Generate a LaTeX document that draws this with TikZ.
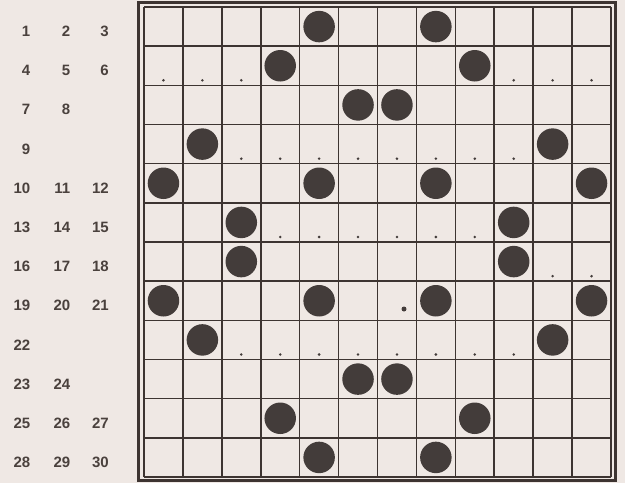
\documentclass[tikz,border=0pt]{standalone}
\usepackage{fontspec}
\setmainfont{Liberation Sans}
\begin{document}
\begin{tikzpicture}[x=1pt,y=-1pt,
  gridline/.style={draw=linec,line width=1.6pt},
  frameline/.style={draw=linec,line width=2.8pt},
  disc/.style={circle,fill=discc,draw=none,minimum size=31.5pt,inner sep=0pt},
  speck/.style={circle,fill=discc,draw=none,minimum size=2.8pt,inner sep=0pt},
  bigspeck/.style={circle,fill=discc,draw=none,minimum size=5pt,inner sep=0pt},
  numlab/.style={anchor=base east,inner sep=0pt,font=\fontsize{15}{15}\selectfont\bfseries,text=numc}]
\definecolor{bgc}{HTML}{EFE8E4}
\definecolor{linec}{HTML}{3D3431}
\definecolor{discc}{HTML}{433C3A}
\definecolor{numc}{HTML}{4A413D}
\useasboundingbox[fill=bgc] (0,0) rectangle (625,483);
\def\gx{144}\def\gy{7}\def\cw{38.917}\def\ch{39.167}
% grid
\foreach \i in {0,...,12}{
  \draw[gridline] ({\gx+\i*\cw},\gy) -- ({\gx+\i*\cw},477);
  \draw[gridline] (\gx,{\gy+\i*\ch}) -- (611,{\gy+\i*\ch});
}
\draw[frameline] (138.5,2.5) rectangle (615.5,480.5);
% discs: row/col pairs
\foreach \r/\c in {1/5,1/8,2/4,2/9,3/6,3/7,4/2,4/11,5/1,5/5,5/8,5/12,6/3,6/10,7/3,7/10,8/1,8/5,8/8,8/12,9/2,9/11,10/6,10/7,11/4,11/9,12/5,12/8}{
  \node[disc] (d\r-\c) at ({\gx+(\c-0.5)*\cw},{\gy+(\r-0.5)*\ch}) {};
}
% small specks
\foreach \r/\c in {2/1,2/2,2/3,2/10,2/11,2/12,4/3,4/4,4/5,4/6,4/7,4/8,4/9,4/10,6/4,6/5,6/6,6/7,6/8,6/9,7/11,7/12,9/3,9/4,9/5,9/6,9/7,9/8,9/9,9/10}{
  \node[speck] (s\r-\c) at ({\gx+(\c-0.5)*\cw},{\gy+\r*\ch-5}) {};
}
\node[bigspeck] (bs) at (404,309) {};
% numbers
\foreach \r/\a/\b/\cc in {1/1/2/3,2/4/5/6,3/7/8/,4/9//,5/10/11/12,6/13/14/15,7/16/17/18,8/19/20/21,9/22//,10/23/24/,11/25/26/27,12/28/29/30}{
  \node[numlab] (n\r a) at (30.5,{36.5+(\r-1)*39.2}) {\a};
  \node[numlab] (n\r b) at (70.5,{36.5+(\r-1)*39.2}) {\b};
  \node[numlab] (n\r c) at (109,{36.5+(\r-1)*39.2}) {\cc};
}
\end{tikzpicture}
\end{document}
